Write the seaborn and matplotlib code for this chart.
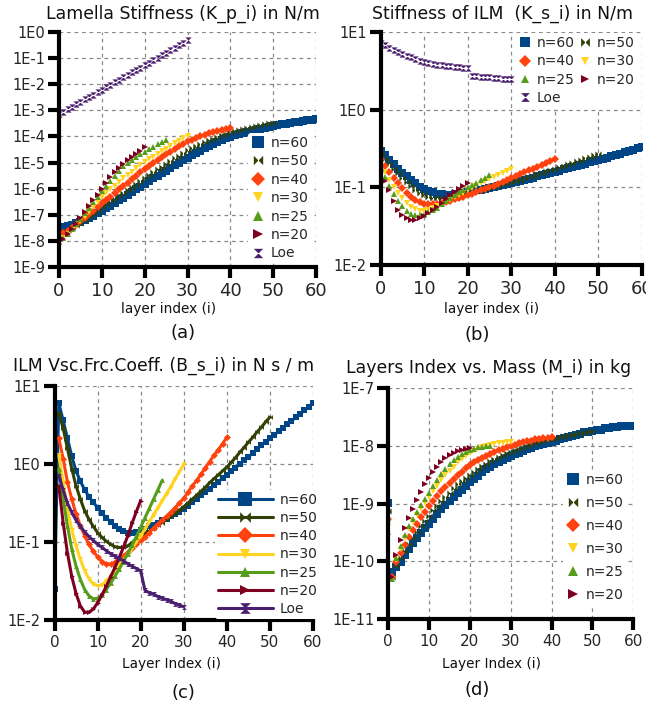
import numpy as np
import pandas as pd
import matplotlib
matplotlib.use("Agg")
import matplotlib.pyplot as plt
from matplotlib.ticker import FuncFormatter, LogLocator, NullLocator
import seaborn as sns

sns.set_theme(style="white")
plt.rcParams["font.family"] = ["DejaVu Sans"]

# series names, colours and markers
labels = ["n=60", "n=50", "n=40", "n=30", "n=25", "n=20", "Loe"]
colors = ["#004586", "#314004", "#ff420e", "#ffd320", "#579d1c", "#7e0021", "#4b1f6f"]
bowtie = [(-1, -1), (1, 1), (1, -1), (-1, 1)]
hourglass = [(-1, 1), (1, 1), (-1, -1), (1, -1)]
markers = ["s", bowtie, "D", "v", "^", ">", hourglass]
x_ticks = [0, 10, 20, 30, 40, 50, 60]

# (a) lamella stiffness, log10 of N/m, index starts at 0
kp_n60 = [-7.51, -7.47, -7.43, -7.38, -7.32, -7.26, -7.19, -7.11, -7.03, -6.94, -6.84,
          -6.74, -6.65, -6.55, -6.45, -6.35, -6.24, -6.13, -6.03, -5.92, -5.81,
          -5.71, -5.61, -5.51, -5.41, -5.31, -5.21, -5.11, -5.01, -4.91, -4.81,
          -4.72, -4.63, -4.54, -4.45, -4.36, -4.28, -4.21, -4.14, -4.07, -4.01,
          -3.96, -3.91, -3.87, -3.82, -3.78, -3.74, -3.70, -3.67, -3.63, -3.60,
          -3.57, -3.54, -3.51, -3.48, -3.45, -3.43, -3.41, -3.38, -3.36, -3.34]
kp_n50 = [-7.73, -7.66, -7.58, -7.50, -7.40, -7.30, -7.19, -7.08, -6.96, -6.84, -6.71,
          -6.60, -6.49, -6.38, -6.26, -6.15, -6.04, -5.93, -5.81, -5.70, -5.59,
          -5.48, -5.37, -5.26, -5.16, -5.05, -4.94, -4.84, -4.73, -4.63, -4.53,
          -4.44, -4.36, -4.28, -4.21, -4.15, -4.08, -4.02, -3.95, -3.89, -3.84,
          -3.80, -3.76, -3.72, -3.68, -3.63, -3.60, -3.57, -3.53, -3.50, -3.47]
kp_n40 = [-7.80, -7.71, -7.62, -7.52, -7.39, -7.25, -7.12, -6.98, -6.84, -6.70, -6.56,
          -6.43, -6.30, -6.16, -6.03, -5.90, -5.77, -5.64, -5.51, -5.38, -5.25,
          -5.13, -5.01, -4.90, -4.79, -4.68, -4.58, -4.48, -4.38, -4.28, -4.19,
          -4.12, -4.05, -3.99, -3.93, -3.88, -3.83, -3.79, -3.75, -3.71, -3.67]
kp_n30 = [-8.00, -7.88, -7.74, -7.59, -7.42, -7.24, -7.07, -6.89, -6.70, -6.52, -6.33,
          -6.18, -6.03, -5.88, -5.74, -5.60, -5.47, -5.35, -5.22, -5.10, -4.99,
          -4.88, -4.78, -4.67, -4.57, -4.47, -4.37, -4.27, -4.17, -4.07, -3.97]
kp_n25 = [-8.05, -7.90, -7.73, -7.55, -7.35, -7.15, -6.95, -6.74, -6.52, -6.31, -6.10,
          -5.90, -5.70, -5.51, -5.33, -5.15, -5.02, -4.90, -4.79, -4.68, -4.58,
          -4.48, -4.39, -4.30, -4.21, -4.13]
kp_n20 = [-8.10, -7.93, -7.75, -7.55, -7.34, -7.12, -6.90, -6.68, -6.45, -6.23, -6.00,
          -5.78, -5.57, -5.37, -5.20, -5.05, -4.92, -4.79, -4.67, -4.54, -4.40]
kp_loe = [-3.15, -3.06, -2.96, -2.87, -2.77, -2.68, -2.58, -2.49, -2.40, -2.30, -2.21,
          -2.11, -2.02, -1.92, -1.83, -1.73, -1.64, -1.55, -1.45, -1.36, -1.26,
          -1.17, -1.07, -0.98, -0.89, -0.79, -0.70, -0.60, -0.51, -0.41, -0.32]

# (b) ILM stiffness, log10 of N/m, index starts at 0
ks_n60 = [-0.53, -0.59, -0.65, -0.70, -0.76, -0.81, -0.86, -0.91, -0.95, -0.99, -1.02,
          -1.045, -1.065, -1.08, -1.09, -1.095, -1.095, -1.09, -1.085, -1.075, -1.06,
          -1.05, -1.04, -1.03, -1.02, -1.01, -0.995, -0.985, -0.97, -0.96, -0.945,
          -0.93, -0.92, -0.905, -0.89, -0.875, -0.86, -0.845, -0.83, -0.815, -0.80,
          -0.785, -0.77, -0.755, -0.74, -0.725, -0.71, -0.695, -0.68, -0.665, -0.65,
          -0.635, -0.62, -0.60, -0.585, -0.57, -0.55, -0.535, -0.52, -0.50, -0.48]
ks_n50 = [-0.57, -0.63, -0.70, -0.76, -0.82, -0.88, -0.93, -0.98, -1.03, -1.07, -1.10,
          -1.12, -1.135, -1.14, -1.14, -1.135, -1.125, -1.115, -1.10, -1.09, -1.075,
          -1.06, -1.05, -1.035, -1.02, -1.005, -0.99, -0.975, -0.96, -0.945, -0.93,
          -0.915, -0.90, -0.885, -0.865, -0.85, -0.83, -0.815, -0.795, -0.78, -0.76,
          -0.74, -0.72, -0.70, -0.685, -0.665, -0.645, -0.625, -0.605, -0.585, -0.565]
ks_n40 = [-0.63, -0.72, -0.80, -0.88, -0.95, -1.01, -1.07, -1.12, -1.16, -1.19, -1.21,
          -1.215, -1.215, -1.21, -1.20, -1.185, -1.17, -1.155, -1.135, -1.12, -1.10,
          -1.08, -1.06, -1.04, -1.02, -1.00, -0.98, -0.955, -0.93, -0.905, -0.88,
          -0.855, -0.83, -0.805, -0.78, -0.76, -0.735, -0.71, -0.685, -0.66, -0.64]
ks_n30 = [-0.70, -0.80, -0.90, -0.99, -1.07, -1.14, -1.20, -1.25, -1.28, -1.30, -1.30,
          -1.29, -1.27, -1.245, -1.22, -1.19, -1.16, -1.13, -1.10, -1.07, -1.04,
          -1.01, -0.98, -0.95, -0.92, -0.89, -0.865, -0.84, -0.815, -0.79, -0.765]
ks_n25 = [-0.75, -0.87, -0.98, -1.08, -1.17, -1.24, -1.30, -1.34, -1.36, -1.36, -1.35,
          -1.32, -1.29, -1.26, -1.22, -1.18, -1.14, -1.10, -1.065, -1.03, -1.00,
          -0.97, -0.94, -0.91, -0.875, -0.84]
ks_n20 = [-0.80, -0.92, -1.03, -1.17, -1.29, -1.36, -1.40, -1.42, -1.42, -1.40, -1.37,
          -1.33, -1.29, -1.25, -1.20, -1.15, -1.10, -1.06, -1.02, -0.98, -0.94]
ks_loe = [0.854, 0.833, 0.798, 0.768, 0.738, 0.713, 0.691, 0.674, 0.652, 0.627, 0.614,
          0.60, 0.59, 0.58, 0.57, 0.565, 0.56, 0.55, 0.545, 0.54, 0.533,
          0.434, 0.43, 0.425, 0.42, 0.415, 0.41, 0.405, 0.40, 0.398, 0.395]

# (c) ILM viscous friction coeff, log10 of N s/m; n=60 starts at 0, the rest at 1
bs_n60 = [-1.60, 0.78, 0.56, 0.33, 0.10, -0.09, -0.22, -0.33, -0.42, -0.49, -0.56,
          -0.63, -0.69, -0.74, -0.79, -0.83, -0.86, -0.88, -0.88, -0.87, -0.85,
          -0.83, -0.80, -0.78, -0.75, -0.72, -0.70, -0.67, -0.64, -0.61, -0.58,
          -0.54, -0.49, -0.45, -0.40, -0.36, -0.32, -0.27, -0.23, -0.18, -0.14,
          -0.09, -0.05, 0.00, 0.05, 0.09, 0.14, 0.19, 0.24, 0.28, 0.33,
          0.37, 0.42, 0.46, 0.51, 0.55, 0.60, 0.64, 0.69, 0.73, 0.78]
bs_n50 = [0.65, 0.46, 0.20, -0.06, -0.28, -0.45, -0.60, -0.71, -0.80, -0.88,
          -0.94, -0.99, -1.03, -1.06, -1.07, -1.07, -1.05, -1.01, -0.96, -0.92,
          -0.89, -0.86, -0.82, -0.78, -0.75, -0.71, -0.67, -0.63, -0.59, -0.55,
          -0.50, -0.45, -0.40, -0.35, -0.30, -0.24, -0.19, -0.14, -0.09, -0.04,
          0.02, 0.08, 0.15, 0.21, 0.28, 0.34, 0.41, 0.47, 0.54, 0.60]
bs_n40 = [0.33, 0.07, -0.23, -0.45, -0.64, -0.79, -0.92, -1.03, -1.12, -1.19,
          -1.25, -1.28, -1.28, -1.26, -1.22, -1.18, -1.13, -1.08, -1.03, -0.98,
          -0.93, -0.88, -0.82, -0.77, -0.72, -0.67, -0.62, -0.56, -0.50, -0.44,
          -0.36, -0.28, -0.21, -0.13, -0.05, 0.03, 0.11, 0.18, 0.26, 0.34]
bs_n30 = [0.11, -0.23, -0.58, -0.84, -1.05, -1.22, -1.37, -1.47, -1.54, -1.56,
          -1.55, -1.50, -1.44, -1.37, -1.30, -1.23, -1.16, -1.08, -1.00, -0.92,
          -0.83, -0.74, -0.65, -0.56, -0.47, -0.38, -0.29, -0.19, -0.10, 0.00]
bs_n25 = [-0.06, -0.45, -0.79, -1.09, -1.31, -1.48, -1.61, -1.69, -1.73, -1.72,
          -1.68, -1.61, -1.53, -1.44, -1.35, -1.25, -1.15, -1.04, -0.93, -0.81,
          -0.69, -0.57, -0.45, -0.33, -0.21]
bs_n20 = [-0.28, -0.75, -1.14, -1.44, -1.66, -1.82, -1.90, -1.90, -1.86, -1.78,
          -1.68, -1.57, -1.45, -1.33, -1.20, -1.07, -0.92, -0.76, -0.61, -0.47]
bs_loe = [-0.15, -0.33, -0.50, -0.62, -0.72, -0.80, -0.87, -0.93, -0.98, -1.03,
          -1.07, -1.11, -1.15, -1.18, -1.21, -1.24, -1.28, -1.31, -1.34, -1.37,
          -1.62, -1.65, -1.67, -1.70, -1.72, -1.74, -1.76, -1.79, -1.81, -1.83]

# (d) layer mass, log10 of kg, index starts at 0
m_n60 = [-8.99, -10.18, -10.10, -10.01, -9.90, -9.79, -9.69, -9.59, -9.51, -9.43, -9.35,
         -9.26, -9.18, -9.10, -9.03, -8.96, -8.89, -8.82, -8.76, -8.69, -8.63,
         -8.57, -8.52, -8.46, -8.41, -8.36, -8.32, -8.28, -8.24, -8.21, -8.18,
         -8.15, -8.12, -8.09, -8.06, -8.04, -8.01, -7.99, -7.97, -7.95, -7.93,
         -7.91, -7.89, -7.87, -7.85, -7.83, -7.81, -7.79, -7.77, -7.76, -7.74,
         -7.73, -7.72, -7.70, -7.69, -7.68, -7.67, -7.66, -7.66, -7.65, -7.65]
m_n50 = [-9.13, -10.27, -10.08, -9.95, -9.82, -9.70, -9.59, -9.49, -9.39, -9.30, -9.21,
         -9.12, -9.04, -8.96, -8.88, -8.81, -8.74, -8.67, -8.61, -8.55, -8.50,
         -8.45, -8.40, -8.35, -8.31, -8.27, -8.23, -8.20, -8.16, -8.13, -8.10,
         -8.07, -8.05, -8.02, -8.00, -7.97, -7.95, -7.93, -7.91, -7.89, -7.88,
         -7.86, -7.85, -7.83, -7.82, -7.81, -7.79, -7.78, -7.77, -7.76, -7.75]
m_n40 = [-9.26, -10.28, -10.02, -9.86, -9.71, -9.58, -9.46, -9.35, -9.24, -9.14, -9.05,
         -8.96, -8.87, -8.79, -8.71, -8.64, -8.57, -8.51, -8.45, -8.39, -8.34,
         -8.29, -8.25, -8.21, -8.17, -8.14, -8.11, -8.08, -8.05, -8.02, -8.00,
         -7.98, -7.96, -7.94, -7.92, -7.91, -7.89, -7.88, -7.87, -7.86, -7.85]
m_n30 = [-9.40, -10.30, -9.98, -9.78, -9.60, -9.45, -9.32, -9.20, -9.09, -8.99, -8.89,
         -8.79, -8.69, -8.60, -8.51, -8.43, -8.36, -8.29, -8.23, -8.18, -8.13,
         -8.09, -8.06, -8.03, -8.01, -7.99, -7.97, -7.96, -7.95, -7.94, -7.93]
m_n25 = [-9.50, -10.30, -9.95, -9.74, -9.55, -9.39, -9.26, -9.14, -9.03, -8.92, -8.81,
         -8.70, -8.59, -8.49, -8.40, -8.32, -8.25, -8.19, -8.14, -8.10, -8.07,
         -8.05, -8.03, -8.02, -8.01, -8.00]
m_n20 = [-9.31, -10.28, -9.90, -9.64, -9.43, -9.25, -9.09, -8.94, -8.80, -8.67, -8.55,
         -8.45, -8.36, -8.28, -8.21, -8.16, -8.12, -8.09, -8.07, -8.05, -8.04]

W, H = 646, 707
fig = plt.figure(figsize=(W / 100, H / 100), dpi=100)


#axes rectangle from pixel edges
def box(l, t, r, b):
    return [l / W, 1 - b / H, (r - l) / W, (b - t) / H]


#draws each series through seaborn, values are log10
def draw(ax, series, line=False, ms=4.5):
    for k, start, logv in series:
        df = pd.DataFrame({"i": np.arange(len(logv)) + start,
                           "v": 10.0 ** np.asarray(logv)})
        sns.lineplot(data=df, x="i", y="v", ax=ax, estimator=None, color=colors[k],
                     marker=markers[k], markersize=ms + (0.8 if k == 0 else 0),
                     markeredgewidth=0, markeredgecolor=colors[k],
                     linestyle="-" if line else "none", linewidth=2.2,
                     label=labels[k])


def style(ax, ymin, ymax, xsize):
    ax.set_yscale("log")
    ax.set_xlim(0, 60)
    ax.set_ylim(ymin, ymax)
    ax.set_xticks(x_ticks)
    ax.yaxis.set_major_locator(LogLocator(base=10, numticks=20))
    ax.yaxis.set_minor_locator(NullLocator())
    ax.yaxis.set_major_formatter(FuncFormatter(lambda v, p: "1E%d" % int(round(np.log10(v)))))
    for s in ["top", "right"]:
        ax.spines[s].set_visible(False)
    for s in ["left", "bottom"]:
        ax.spines[s].set_linewidth(3)
        ax.spines[s].set_color("black")
    ax.grid(True, color="#8a8a8a", linestyle=(0, (3, 3)), linewidth=0.9)
    ax.set_axisbelow(True)
    ax.tick_params(axis="both", direction="out", length=8, width=3, color="black",
                   left=True, bottom=True)
    ax.tick_params(axis="y", labelsize=10.5, pad=2)
    ax.tick_params(axis="x", labelsize=xsize, pad=3)
    ax.set_xlabel("")
    ax.set_ylabel("")


def legend(ax, order, anchor, spacing=0.32, hl=1.0, ncol=1, scale=1.5, cs=0.6):
    h, l = ax.get_legend_handles_labels()
    leg = ax.legend([h[i] for i in order], [l[i] for i in order], loc="upper left",
                    bbox_to_anchor=anchor, ncol=ncol, fontsize=10, frameon=True,
                    facecolor="white", edgecolor="none", framealpha=1,
                    borderaxespad=0, borderpad=0.2, labelspacing=spacing,
                    handlelength=hl, handletextpad=0.45, columnspacing=cs,
                    markerscale=scale)
    return leg


# (a)
ax_a = fig.add_axes(box(59, 32, 316, 267))
draw(ax_a, [(0, 0, kp_n60), (1, 0, kp_n50), (2, 0, kp_n40), (3, 0, kp_n30),
            (4, 0, kp_n25), (5, 0, kp_n20), (6, 0, kp_loe)])
style(ax_a, 1e-9, 1e0, 13)
legend(ax_a, range(7), (0.735, 0.57))

# (b)
ax_b = fig.add_axes(box(380.5, 32, 642, 265))
draw(ax_b, [(0, 0, ks_n60), (1, 0, ks_n50), (2, 0, ks_n40), (3, 0, ks_n30),
            (4, 0, ks_n25), (5, 0, ks_n20), (6, 0, ks_loe)])
style(ax_b, 1e-2, 1e1, 13)
legend(ax_b, [0, 2, 4, 6, 1, 3, 5], (0.52, 0.995), ncol=2, hl=0.8, scale=1.4, cs=0.35)

# (c)
ax_c = fig.add_axes(box(54.5, 386, 313, 620))
draw(ax_c, [(0, 0, bs_n60), (1, 1, bs_n50), (2, 1, bs_n40), (3, 1, bs_n30),
            (4, 1, bs_n25), (5, 1, bs_n20), (6, 1, bs_loe)], line=True, ms=3.5)
style(ax_c, 1e-2, 1e1, 11)
legend(ax_c, range(7), (0.62, 0.555), spacing=0.3, hl=4.0, scale=2.2)

# (d)
ax_d = fig.add_axes(box(388.3, 388, 633.3, 619))
draw(ax_d, [(0, 0, m_n60), (1, 0, m_n50), (2, 0, m_n40), (3, 0, m_n30),
            (4, 0, m_n25), (5, 0, m_n20)])
style(ax_d, 1e-11, 1e-7, 11)
legend(ax_d, range(6), (0.713, 0.645), spacing=0.65)

# titles, axis labels and panel letters
def ftext(x, y, s, size):
    fig.text(x / W, 1 - y / H, s, ha="center", va="center", fontsize=size, color="#111111")

ftext(183, 14, "Lamella Stiffness (K_p_i) in N/m", 12.4)
ftext(502, 14, "Stiffness of ILM  (K_s_i) in N/m", 12.4)
ftext(164, 366, "ILM Vsc.Frc.Coeff. (B_s_i) in N s / m", 12.4)
ftext(489, 368, "Layers Index vs. Mass (M_i) in kg", 12.4)
ftext(169, 309, "layer index (i)", 9.8)
ftext(492, 309, "layer index (i)", 9.8)
ftext(172, 664, "Layer Index (i)", 9.8)
ftext(491, 664, "Layer Index (i)", 9.8)
ftext(183, 333, "(a)", 13)
ftext(477, 335, "(b)", 13)
ftext(183, 693, "(c)", 13)
ftext(477, 690, "(d)", 13)

fig.savefig("out.png", dpi=100)
